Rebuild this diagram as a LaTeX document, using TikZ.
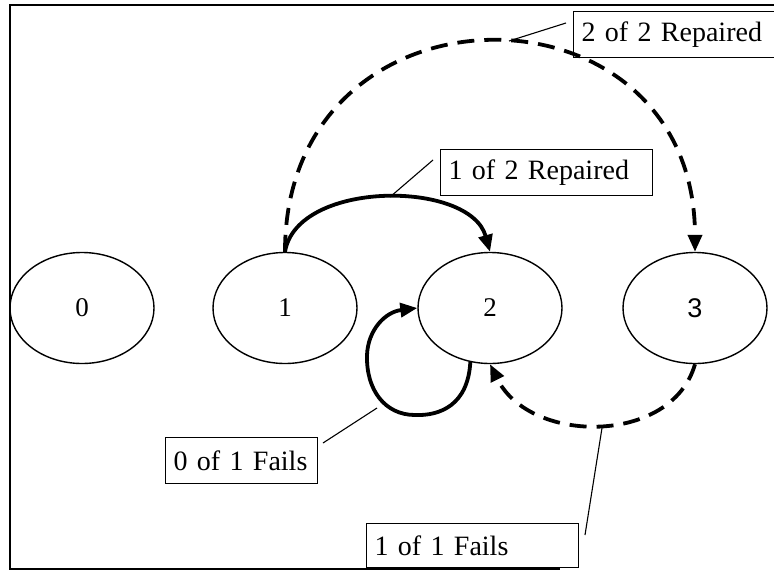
\documentclass[tikz,border=0pt]{standalone}
\usepackage{fontspec}
\setmainfont{Liberation Serif}
\newfontfamily\sansdigit{Liberation Sans}
\usetikzlibrary{shapes.geometric,arrows.meta}
\begin{document}
\begin{tikzpicture}[x=1pt,y=-1pt,
  state/.style={ellipse,draw,line width=1.4pt,minimum width=144pt,minimum height=111pt,inner sep=0pt,font=\fontsize{27}{30}\selectfont},
  lbl/.style={draw,line width=1.3pt,anchor=north west,minimum height=46pt,inner ysep=0pt,inner xsep=8pt,align=left,font=\fontsize{28}{32}\selectfont},
  solidarc/.style={line width=3.8pt,-{Triangle[length=17pt,width=14pt]}},
  dasharc/.style={solidarc,dash pattern=on 17pt off 10pt},
  leader/.style={line width=1.1pt}]
\useasboundingbox (0,0) rectangle (774,571);
% frame
\draw[line width=2.5pt] (774,5) -- (10,5) -- (10,569) -- (560,569);
% states
\node[state] (n0) at (82,308) {0};
\node[state] (n1) at (285,308) {1};
\node[state] (n2) at (490,308) {2};
\node[state] (n3) at (695,308) {\sansdigit 3};
% labels
\node[lbl,text width=192pt] (B22) at (573,11) {2 of 2 Repaired};
\node[lbl,text width=196pt] (B12) at (440,149) {1 of 2 Repaired};
\node[lbl,text width=136pt] (B01) at (165,437) {0 of 1 Fails};
\node[lbl,text width=196pt,minimum height=44pt] (B11) at (366,523) {1 of 1 Fails};
% transitions
\draw[dasharc] (n1.north) .. controls +(0,-280) and +(0,-280) .. (n3.north);
\draw[solidarc] (n1.north) .. controls +(12,-72) and +(-20,-72) .. (n2.north);
\draw[solidarc] (n2.250) .. controls (468,405) and (440,416) .. (415,415)
  .. controls (385,415) and (366,390) .. (367,355)
  .. controls (368,330) and (385,312) .. (n2.west);
\draw[dasharc] (n3.south) .. controls (672,445) and (530,445) .. (n2.south);
% leader lines
\coordinate (q22) at (566,23); \coordinate (p22) at (509,41);
\coordinate (q12) at (433,160); \coordinate (p12) at (390,197);
\coordinate (q01) at (323,443); \coordinate (p01) at (377,408);
\coordinate (q11) at (585,535); \coordinate (p11) at (602,428);
\draw[leader] (q22) -- (p22);
\draw[leader] (q12) -- (p12);
\draw[leader] (q01) -- (p01);
\draw[leader] (q11) -- (p11);
\end{tikzpicture}
\end{document}
